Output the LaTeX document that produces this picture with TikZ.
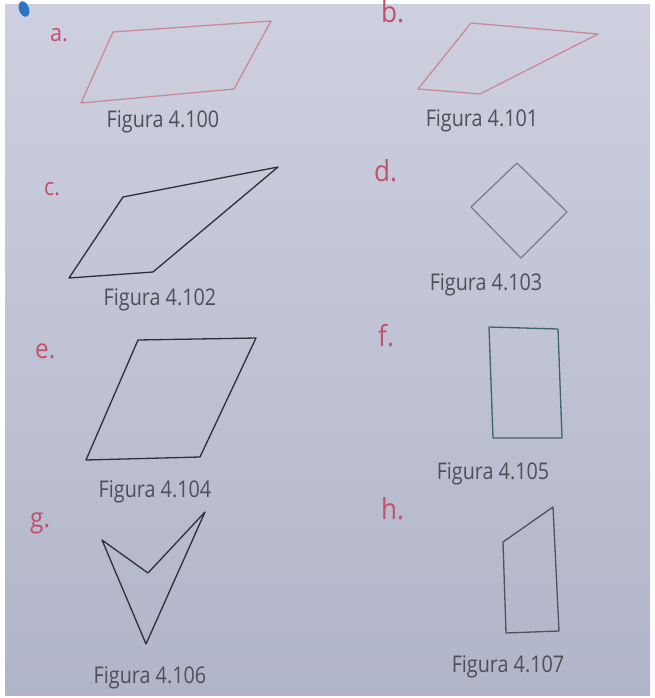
\documentclass[tikz,border=0pt]{standalone}
\usepackage{fontspec}
\newfontfamily\capfont[FakeStretch=0.86]{Open Sans}
\newfontfamily\labfont[FakeStretch=0.9]{Open Sans}
\definecolor{paperA}{HTML}{CED0DF}
\definecolor{paperB}{HTML}{B1B5C9}
\definecolor{captxt}{HTML}{4E5058}
\definecolor{labtxt}{HTML}{C24F6C}
\definecolor{pinkline}{HTML}{C98A98}
\definecolor{darkline}{HTML}{2E3036}
\definecolor{greyline}{HTML}{7E8088}
\definecolor{tealline}{HTML}{3E6660}
\definecolor{midline}{HTML}{505259}
\definecolor{penblue}{HTML}{2C74C4}
\tikzset{
  caption/.style={font=\capfont\fontsize{23}{26}\selectfont, text=captxt, inner sep=0pt, anchor=base},
  letter/.style={font=\labfont\fontsize{24}{26}\selectfont, text=labtxt, inner sep=0pt, anchor=base west},
  bigletter/.style={letter, font=\labfont\fontsize{29}{30}\selectfont},
  shapeline/.style={line width=1.3pt, line join=round}
}
\begin{document}
\begin{tikzpicture}[x=1pt,y=-1pt]
\useasboundingbox (0,0) rectangle (654,698);
% paper
\fill[white] (0,0) rectangle (654,698);
\shade[top color=paperA, bottom color=paperB] (5,5) rectangle (650,695);
% pen mark
\fill[penblue, rotate around={-70:(24,9)}] (24,9) ellipse (8pt and 5pt);

% a.
\node[letter] (la) at (50,42) {a.};
\coordinate (a1) at (113,32); \coordinate (a2) at (271,21);
\coordinate (a3) at (234,89); \coordinate (a4) at (81,103);
\draw[shapeline, pinkline] (a1) -- (a2) -- (a3) -- (a4) -- cycle;
\node[caption] (ca) at (163,128) {Figura 4.100};

% b.
\node[bigletter] (lb) at (381,23) {b.};
\coordinate (b1) at (471,23); \coordinate (b2) at (598,34);
\coordinate (b3) at (480,94); \coordinate (b4) at (418,89);
\draw[shapeline, pinkline] (b1) -- (b2) -- (b3) -- (b4) -- cycle;
\node[caption] (cb) at (482,127) {Figura 4.101};

% c.
\node[letter] (lc) at (44,195) {c.};
\coordinate (c1) at (123,197); \coordinate (c2) at (278,167);
\coordinate (c3) at (153,272); \coordinate (c4) at (69,278);
\draw[shapeline, darkline] (c1) -- (c2) -- (c3) -- (c4) -- cycle;
\node[caption] (cc) at (160,305) {Figura 4.102};

% d.
\node[bigletter] (ld) at (374,181) {d.};
\coordinate (d1) at (517,163); \coordinate (d2) at (567,212);
\coordinate (d3) at (521,258); \coordinate (d4) at (471,207);
\draw[shapeline, greyline] (d1) -- (d2) -- (d3) -- (d4) -- cycle;
\node[caption] (cd) at (486,290) {Figura 4.103};

% e.
\node[letter, font=\labfont\fontsize{27}{28}\selectfont] (le) at (35,358) {e.};
\coordinate (e1) at (138,340); \coordinate (e2) at (256,338);
\coordinate (e3) at (200,457); \coordinate (e4) at (86,460);
\draw[shapeline, darkline] (e1) -- (e2) -- (e3) -- (e4) -- cycle;
\node[caption] (ce) at (155,497) {Figura 4.104};

% f.
\node[bigletter] (lf) at (378,346) {f.};
\coordinate (f1) at (489,327); \coordinate (f2) at (558,329);
\coordinate (f3) at (562,438); \coordinate (f4) at (493,438);
\draw[shapeline, tealline] (f1) -- (f2) -- (f3) -- (f4) -- cycle;
\node[caption] (cf) at (493,479) {Figura 4.105};

% g.
\node[letter, font=\labfont\fontsize{27}{28}\selectfont] (lg) at (30,527) {g.};
\coordinate (g1) at (102,540); \coordinate (g2) at (148,573);
\coordinate (g3) at (205,512); \coordinate (g4) at (146,644);
\draw[shapeline, darkline] (g1) -- (g2) -- (g3) -- (g4) -- cycle;
\node[caption] (cg) at (150,683) {Figura 4.106};

% h.
\node[bigletter] (lh) at (381,519) {h.};
\coordinate (h1) at (503,542); \coordinate (h2) at (553,507);
\coordinate (h3) at (559,631); \coordinate (h4) at (506,633);
\draw[shapeline, midline] (h1) -- (h2) -- (h3) -- (h4) -- cycle;
\node[caption] (ch) at (508,672) {Figura 4.107};
\end{tikzpicture}
\end{document}
